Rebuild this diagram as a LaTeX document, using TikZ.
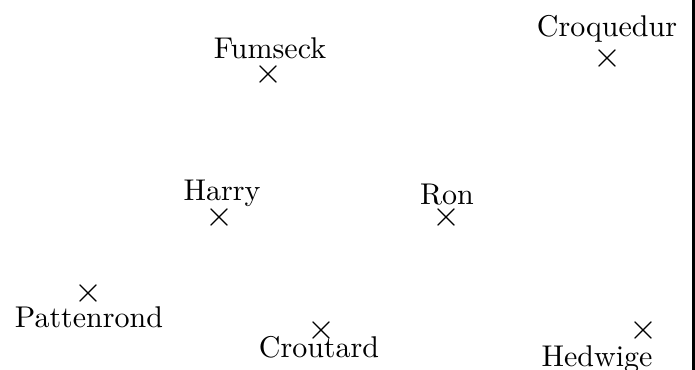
\documentclass[tikz,border=0pt]{standalone}
\usepackage{amsmath, amsfonts, amssymb}
\usepackage{xcolor}
\usepackage{tikz}
\usetikzlibrary{positioning}

\begin{document}
\begin{tikzpicture}[x=0.3333pt,y=-0.3333pt]
						\tikzstyle{marker}=[inner sep=0pt,font=\large]
						\tikzstyle{nom}=[inner sep=0pt,anchor=base]
						\useasboundingbox (0,0) rectangle (695,370);
						\node[marker](fumseck) at (269,74){$\times$};
						\node[marker](croquedur) at (608,58){$\times$};
						\node[marker](harry) at (220,217){$\times$};
						\node[marker](ron) at (447,217){$\times$};
						\node[marker](pattenrond) at (89,293){$\times$};
						\node[marker](croutard) at (322,330){$\times$};
						\node[marker](hedwige) at (644,330){$\times$};
						\node[nom](fumseckname) at (270,58){Fumseck};
						\node[nom](croquedurname) at (607,36){Croquedur};
						\node[nom](harryname) at (222,200){Harry};
						\node[nom](ronname) at (447,204){Ron};
						\node[nom](pattenrondname) at (89,327){Pattenrond};
						\node[nom](croutardname) at (319,357){Croutard};
						\node[nom](hedwigename) at (597,366){Hedwige};
						\draw[line width=1pt] (694,0) -- (694,370);
					\end{tikzpicture}
\end{document}
